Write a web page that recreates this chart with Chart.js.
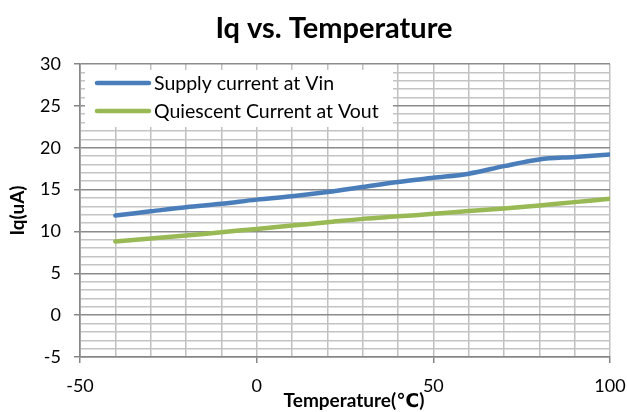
<!DOCTYPE html>
<html>
<head>
<meta charset="utf-8">
<script src="https://cdn.jsdelivr.net/npm/chart.js@4/dist/chart.umd.min.js"></script>
<style>
  html, body { margin: 0; padding: 0; background: #fff; }
  #wrap { width: 627px; height: 412px; }
</style>
</head>
<body>
<div id="wrap"><canvas id="c" width="627" height="412"></canvas></div>
<script>
// ---- data ----
const temperatures = [-40, -30, -20, -10, 0, 10, 20, 30, 40, 50, 60, 70, 80, 90, 100];
const supplyCurrentVin = [11.9, 12.4, 12.9, 13.3, 13.8, 14.2, 14.7, 15.3, 15.9, 16.4, 16.9, 17.8, 18.6, 18.9, 19.2];
const quiescentCurrentVout = [8.8, 9.15, 9.5, 9.9, 10.3, 10.7, 11.1, 11.5, 11.8, 12.1, 12.45, 12.75, 13.1, 13.5, 13.9];
const seriesLabels = ['Supply current at Vin', 'Quiescent Current at Vout'];
const xTickLabels = [-50, 0, 50, 100];
const yTickLabels = [-5, 0, 5, 10, 15, 20, 25, 30];
const chartTitle = 'Iq vs. Temperature';
const xAxisTitle = 'Temperature(℃)';
const yAxisTitle = 'Iq(uA)';

const FONT = 'Lato, "Open Sans", "DejaVu Sans", sans-serif';

const toPoints = (xs, ys) => xs.map((x, i) => ({ x: x, y: ys[i] }));

const decorations = {
  id: 'decorations',
  afterDraw(chart) {
    const ctx = chart.ctx;
    const a = chart.chartArea;
    ctx.save();
    ctx.fillStyle = '#000';
    ctx.textAlign = 'center';
    ctx.textBaseline = 'alphabetic';
    ctx.font = 'bold 29px ' + FONT;
    ctx.fillText(chartTitle, 334, 38);
    ctx.font = 'bold 19px ' + FONT;
    ctx.fillText(xAxisTitle, a.left + (a.right - a.left) / 2 + 9, 407);
    ctx.restore();
  },
  afterDatasetsDraw(chart) {
    const ctx = chart.ctx;
    const a = chart.chartArea;
    const x0 = a.left + 5, y0 = a.top + 6;
    ctx.save();
    ctx.fillStyle = '#ffffff';
    ctx.fillRect(x0, y0, 308, 57);
    ctx.font = '19.5px ' + FONT;
    ctx.textBaseline = 'middle';
    chart.data.datasets.forEach((ds, i) => {
      const y = y0 + 13 + i * 28;
      ctx.strokeStyle = ds.borderColor;
      ctx.lineWidth = 4.5;
      ctx.lineCap = 'round';
      ctx.beginPath();
      ctx.moveTo(x0 + 12, y);
      ctx.lineTo(x0 + 64, y);
      ctx.stroke();
      ctx.fillStyle = '#000';
      ctx.fillText(ds.label, x0 + 69, y + 1);
    });
    ctx.restore();
  }
};

new Chart(document.getElementById('c'), {
  type: 'line',
  data: {
    datasets: [
      {
        label: seriesLabels[0],
        data: toPoints(temperatures, supplyCurrentVin),
        borderColor: '#4a7ebb',
        borderWidth: 4.5,
        pointRadius: 0,
        tension: 0.35,
        borderCapStyle: 'round',
        fill: false
      },
      {
        label: seriesLabels[1],
        data: toPoints(temperatures, quiescentCurrentVout),
        borderColor: '#98b954',
        borderWidth: 4.5,
        pointRadius: 0,
        tension: 0.35,
        borderCapStyle: 'round',
        fill: false
      }
    ]
  },
  options: {
    responsive: false,
    animation: false,
    devicePixelRatio: 1,
    layout: { padding: { left: 0, right: 17, top: 64, bottom: 0 } },
    plugins: {
      legend: { display: false },
      tooltip: { enabled: false },
      title: { display: false }
    },
    scales: {
      x: {
        type: 'linear',
        min: -50,
        max: 100,
        afterFit(s) { s.height = 55; s.paddingLeft = 0; s.paddingRight = 0; },
        afterBuildTicks(s) {
          const t = [];
          for (let v = -50; v <= 100; v += 10) t.push({ value: v });
          s.ticks = t;
        },
        ticks: {
          autoSkip: false,
          maxRotation: 0,
          padding: 12,
          color: '#000',
          font: { family: FONT, size: 18 },
          callback: (v) => xTickLabels.includes(v) ? String(v) : ''
        },
        grid: {
          color: (c) => c.tick && c.tick.value === -50 ? '#868686' : '#c0c0c0',
          lineWidth: 1.5,
          tickLength: 6,
          tickColor: (c) => c.tick && xTickLabels.includes(c.tick.value) ? '#868686' : 'rgba(0,0,0,0)'
        },
        border: { display: true, color: '#868686', width: 1.5 },
        title: { display: false }
      },
      y: {
        type: 'linear',
        min: -5,
        max: 30,
        afterFit(s) { s.width = 80; s.paddingTop = 0; s.paddingBottom = 0; },
        afterBuildTicks(s) {
          const t = [];
          for (let v = -5; v <= 30; v += 1) t.push({ value: v });
          s.ticks = t;
        },
        ticks: {
          autoSkip: false,
          padding: 13,
          color: '#000',
          font: { family: FONT, size: 18 },
          callback: (v) => yTickLabels.includes(v) ? String(v) : ''
        },
        grid: {
          color: (c) => c.tick && yTickLabels.includes(c.tick.value) ? '#8c8c8c' : '#c4c4c4',
          lineWidth: 1.5,
          tickLength: 6,
          tickColor: (c) => c.tick && yTickLabels.includes(c.tick.value) ? '#868686' : 'rgba(0,0,0,0)'
        },
        border: { display: true, color: '#868686', width: 1.5 },
        title: {
          display: true,
          text: yAxisTitle,
          color: '#000',
          font: { family: FONT, size: 19, weight: 'bold' },
          padding: { top: 6, bottom: 0 }
        }
      }
    }
  },
  plugins: [decorations]
});
</script>
</body>
</html>
